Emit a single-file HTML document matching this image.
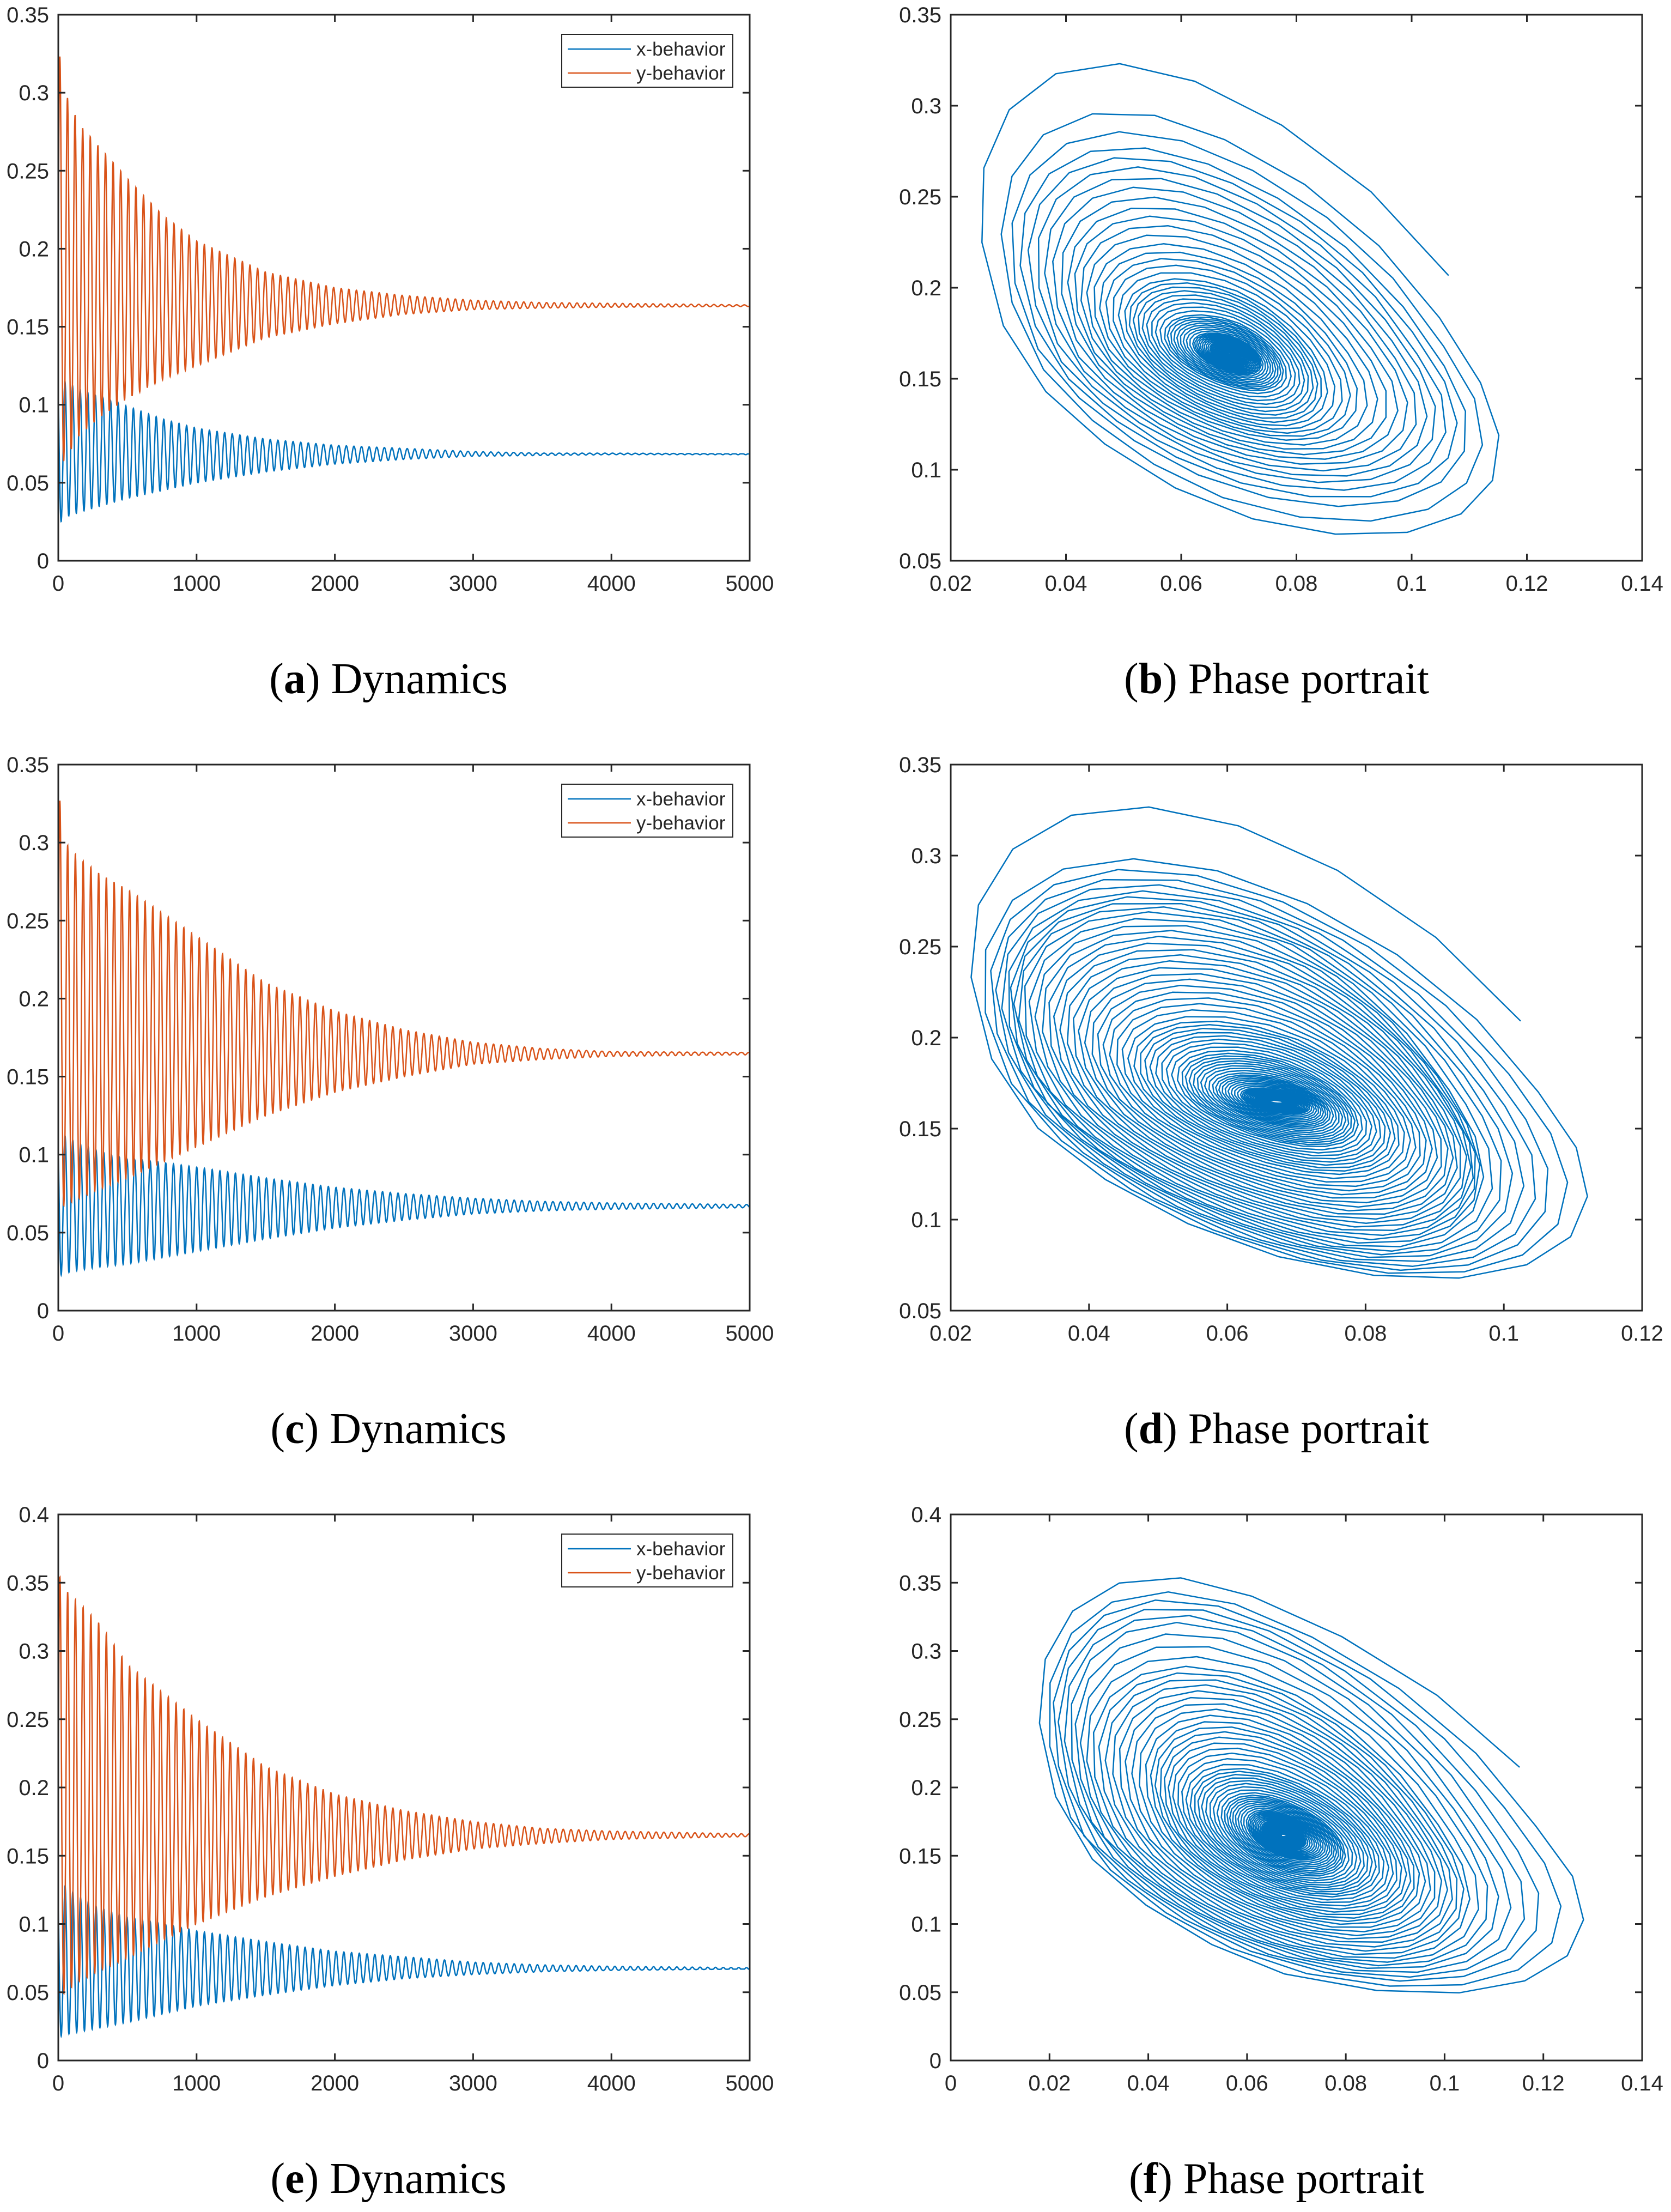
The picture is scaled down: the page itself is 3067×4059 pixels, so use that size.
<!DOCTYPE html>
<html><head><meta charset="utf-8"><style>
html,body{margin:0;padding:0;background:#fff;}
svg{display:block;}
text{font-family:"Liberation Sans",sans-serif;fill:#262626;}
.cap{font-family:"Liberation Serif",serif;fill:#000;font-size:80px;}
</style></head><body>
<svg id="fig" width="3067" height="4059" viewBox="0 0 3067 4059" xmlns="http://www.w3.org/2000/svg"></svg>
<script>
// ---- data (envelopes) ----
const envT = [0,50,150,300,500,750,1000,1500,2000,2500,3000,3500,4000,5000];
const aYHi = [0.33,0.30,0.28,0.265,0.245,0.222,0.205,0.185,0.175,0.170,0.167,0.1655,0.165,0.164];
const aYLo = [0.06,0.065,0.08,0.092,0.104,0.116,0.125,0.143,0.152,0.158,0.161,0.162,0.1625,0.163];
const aXHi = [0.122,0.115,0.11,0.105,0.099,0.091,0.085,0.078,0.074,0.072,0.070,0.069,0.069,0.0685];
const aXLo = [0.023,0.028,0.031,0.035,0.040,0.045,0.050,0.057,0.062,0.065,0.067,0.0675,0.068,0.068];
const cYHi = [0.335,0.30,0.29,0.28,0.27,0.255,0.24,0.21,0.192,0.18,0.172,0.168,0.166,0.1655];
const cYLo = [0.065,0.068,0.072,0.078,0.085,0.095,0.105,0.125,0.14,0.15,0.158,0.161,0.163,0.164];
const cXHi = [0.117,0.112,0.107,0.102,0.097,0.095,0.092,0.085,0.079,0.075,0.072,0.070,0.069,0.068];
const cXLo = [0.022,0.024,0.026,0.028,0.030,0.034,0.038,0.046,0.053,0.058,0.062,0.064,0.065,0.066];
const eYHi = [0.357,0.345,0.335,0.32,0.29,0.27,0.25,0.215,0.195,0.183,0.175,0.17,0.168,0.166];
const eYLo = [0.045,0.05,0.058,0.066,0.075,0.088,0.10,0.12,0.135,0.147,0.155,0.159,0.162,0.164];
const eXHi = [0.135,0.128,0.12,0.112,0.105,0.10,0.095,0.087,0.08,0.076,0.072,0.070,0.069,0.068];
const eXLo = [0.017,0.019,0.021,0.024,0.028,0.034,0.040,0.048,0.055,0.060,0.063,0.065,0.066,0.067];
const centers = [[0.0685,0.1635],[0.067,0.165],[0.067,0.165]];
const period = [55,56,56];
const timeTicks = [0,1000,2000,3000,4000,5000];
const yTicksA = [0,0.05,0.1,0.15,0.2,0.25,0.3,0.35];
const yTicksE = [0,0.05,0.1,0.15,0.2,0.25,0.3,0.35,0.4];
const pxTicksB = [0.02,0.04,0.06,0.08,0.1,0.12,0.14];
const pyTicksB = [0.05,0.1,0.15,0.2,0.25,0.3,0.35];
const pxTicksD = [0.02,0.04,0.06,0.08,0.1,0.12];
const pxTicksF = [0,0.02,0.04,0.06,0.08,0.1,0.12,0.14];
const pyTicksF = [0,0.05,0.1,0.15,0.2,0.25,0.3,0.35,0.4];
const captionsL = ['a','c','e'];
const captionsR = ['b','d','f'];

const NS='http://www.w3.org/2000/svg';
const svg=document.getElementById('fig');
function el(tag,attrs,parent){const e=document.createElementNS(NS,tag);for(const k in attrs)e.setAttribute(k,attrs[k]);(parent||svg).appendChild(e);return e;}
function fmt(v){return String(Number(v.toFixed(4)));}
function env(arr,t){for(let i=1;i<envT.length;i++){if(t<=envT[i]){const f=(t-envT[i-1])/(envT[i]-envT[i-1]);return arr[i-1]+f*(arr[i]-arr[i-1]);}}return arr[arr.length-1];}

const DELTA=1.05;
function series(r,t){
  const E=[[aXHi,aXLo,aYHi,aYLo],[cXHi,cXLo,cYHi,cYLo],[eXHi,eXLo,eYHi,eYLo]][r];
  const [xc,yc]=centers[r];const d=DELTA;
  const th=3*Math.PI/2-0.75*d+2*Math.PI*t/period[r];
  const cx=-Math.cos(th), cy=Math.cos(th+d);
  const x=xc+(cx>0?env(E[0],t)-xc:xc-env(E[1],t))*cx;
  const y=yc+(cy>0?env(E[2],t)-yc:yc-env(E[3],t))*cy;
  return [x,y];
}

function axes(id,L,T,R,B,xmin,xmax,ymin,ymax,xt,yt){
  const g=el('g',{});
  
  
  const sx=v=>L+(v-xmin)/(xmax-xmin)*(R-L);
  const sy=v=>B-(v-ymin)/(ymax-ymin)*(B-T);
  const cp=el('clipPath',{id:'clip-'+id},g);el('rect',{x:L,y:T,width:R-L,height:B-T},cp);
  const plot=el('g',{'clip-path':'url(#clip-'+id+')'},g);
  const ax=el('g',{},g);
  
  
  el('rect',{x:L,y:T,width:R-L,height:B-T,fill:'none',stroke:'#262626','stroke-width':3},ax);
  xt.forEach(v=>{const x=sx(v);
    el('line',{x1:x,y1:B,x2:x,y2:B-13,stroke:'#262626','stroke-width':3},ax);
    el('line',{x1:x,y1:T,x2:x,y2:T+13,stroke:'#262626','stroke-width':3},ax);
    const t=el('text',{x:x,y:B+55,'font-size':40,'text-anchor':'middle'},ax);t.textContent=fmt(v);
    
    });
  yt.forEach(v=>{const y=sy(v);
    el('line',{x1:L,y1:y,x2:L+13,y2:y,stroke:'#262626','stroke-width':3},ax);
    el('line',{x1:R,y1:y,x2:R-13,y2:y,stroke:'#262626','stroke-width':3},ax);
    const t=el('text',{x:L-17,y:y+14,'font-size':40,'text-anchor':'end'},ax);t.textContent=fmt(v);
    
    });
  return {plot,sx,sy};
}

const rowsTop=[27,1403,2779];
const H=1002;
for(let r=0;r<3;r++){
  const T=rowsTop[r],B=T+H;
  const yt=r===2?yTicksE:yTicksA;
  const ymax=yt[yt.length-1];
  const A=axes('dynamics-'+captionsL[r],107,T,1376,B,0,5000,0,ymax,timeTicks,yt);
  let dx='',dy='';
  for(let t=0;t<=5000;t+=1){const [x,y]=series(r,t);
    dx+=(t?'L':'M')+A.sx(t).toFixed(1)+' '+A.sy(x).toFixed(1);
    dy+=(t?'L':'M')+A.sx(t).toFixed(1)+' '+A.sy(y).toFixed(1);}
  const px=el('path',{d:dx,fill:'none',stroke:'#0072BD','stroke-width':2.5},A.plot);
  
  
  const py=el('path',{d:dy,fill:'none',stroke:'#D95319','stroke-width':2.5},A.plot);
  
  
  const lg=el('g',{});
  
  
  el('rect',{x:1031,y:T+36,width:314,height:97,fill:'#fff',stroke:'#262626','stroke-width':2},lg);
  el('line',{x1:1042,y1:T+63,x2:1158,y2:T+63,stroke:'#0072BD','stroke-width':2.5},lg);
  el('line',{x1:1042,y1:T+107,x2:1158,y2:T+107,stroke:'#D95319','stroke-width':2.5},lg);
  const l1=el('text',{x:1168,y:T+75,'font-size':35},lg);l1.textContent='x-behavior';
  
  
  const l2=el('text',{x:1168,y:T+119,'font-size':35},lg);l2.textContent='y-behavior';
  
  
  const pxt=r===0?pxTicksB:(r===1?pxTicksD:pxTicksF);
  const pyt=r===2?pyTicksF:pyTicksB;
  const P=axes('phase-'+captionsR[r],1745,T,3014,B,pxt[0],pxt[pxt.length-1],pyt[0],pyt[pyt.length-1],pxt,pyt);
  let dp='';
  for(let t=0;t<=5000;t+=2.7){const [x,y]=series(r,t);
    dp+=(t?'L':'M')+P.sx(x).toFixed(1)+' '+P.sy(y).toFixed(1);}
  const pp=el('path',{d:dp,fill:'none',stroke:'#0072BD','stroke-width':2.5,'stroke-linejoin':'round'},P.plot);
  
  
  const c1=el('text',{x:713,y:B+243,'text-anchor':'middle',class:'cap'});
  c1.innerHTML='(<tspan font-weight="bold">'+captionsL[r]+'</tspan>) Dynamics';
  
  
  const c2=el('text',{x:2343,y:B+243,'text-anchor':'middle',class:'cap'});
  c2.innerHTML='(<tspan font-weight="bold">'+captionsR[r]+'</tspan>) Phase portrait';
  
  
}
</script>
</body></html>
